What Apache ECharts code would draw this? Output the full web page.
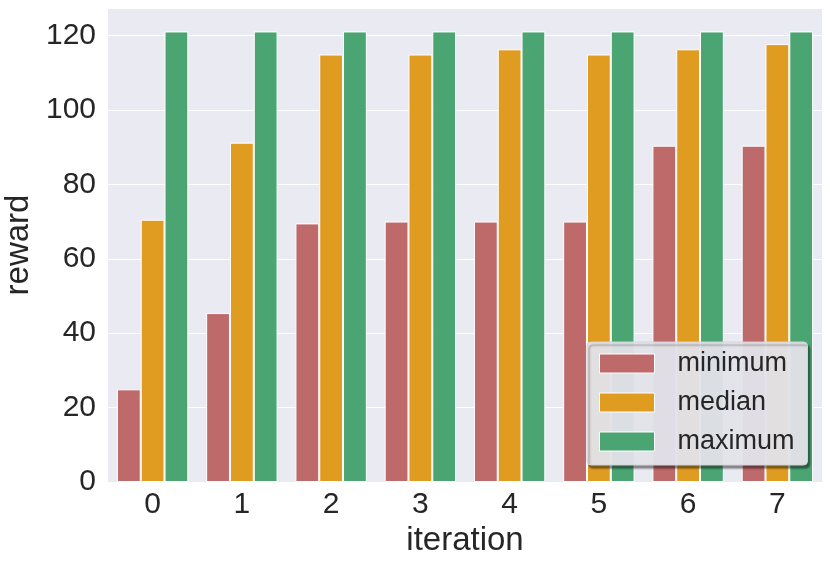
<!DOCTYPE html>
<html>
<head>
<meta charset="utf-8">
<script src="https://cdn.jsdelivr.net/npm/echarts@6/dist/echarts.min.js"></script>
<style>
  html, body { margin: 0; padding: 0; background: #ffffff; }
  #app { width: 830px; height: 565px; }
</style>
</head>
<body>
<div id="app"></div>
<script>
// iterations on the x axis
var iterations = ['0', '1', '2', '3', '4', '5', '6', '7'];
// reward values per iteration
var minimum = [24.9, 45.4, 69.5, 70.0, 70.0, 70.0, 90.4, 90.4];
var median = [70.5, 91.2, 114.9, 114.9, 116.3, 114.9, 116.3, 117.7];
var maximum = [121.1, 121.1, 121.1, 121.1, 121.1, 121.1, 121.1, 121.1];
var yTicks = [0, 20, 40, 60, 80, 100, 120];

var textColor = '#262626';
var fontFamily = 'Liberation Sans, Arial, sans-serif';

function barSeries(name, data, color) {
    return {
        name: name,
        type: 'bar',
        data: data,
        barGap: '0%',
        barCategoryGap: '20%',
        itemStyle: { color: color, borderColor: '#ffffff', borderWidth: 1 }
    };
}

var chart = echarts.init(document.getElementById('app'));
chart.setOption({
    animation: false,
    textStyle: { fontFamily: fontFamily },
    grid: {
        left: 108, right: 8, top: 8, bottom: 83,
        outerBoundsMode: 'none',
        containLabel: false,
        show: true, backgroundColor: '#EAEAF2', borderWidth: 0
    },
    legend: {
        orient: 'vertical',
        left: 587, top: 342,
        padding: [8, 13, 10, 12],
        itemWidth: 55, itemHeight: 19, itemGap: 12,
        icon: 'rect',
        backgroundColor: 'rgba(234,234,242,0.92)',
        borderColor: '#d2d2d8', borderWidth: 1, borderRadius: 4,
        shadowColor: 'rgba(0,0,0,0.45)', shadowBlur: 2,
        shadowOffsetX: 2, shadowOffsetY: 3,
        itemStyle: { borderColor: '#ffffff', borderWidth: 1 },
        textStyle: { fontSize: 27, color: textColor, padding: [0, 0, 0, 18] },
        data: ['minimum', 'median', 'maximum']
    },
    xAxis: {
        type: 'category',
        data: iterations,
        name: 'iteration',
        nameLocation: 'middle',
        nameGap: 42,
        nameTextStyle: { fontSize: 33, color: textColor },
        axisLine: { show: false },
        axisTick: { show: false },
        axisLabel: { fontSize: 30, color: textColor, margin: 8 }
    },
    yAxis: {
        type: 'value',
        min: 0, max: 127.4, interval: 20,
        name: 'reward',
        nameLocation: 'middle',
        nameGap: 66,
        nameTextStyle: { fontSize: 33, color: textColor },
        axisLine: { show: false },
        axisTick: { show: false },
        axisLabel: {
            fontSize: 30, color: textColor, margin: 12, showMaxLabel: false,
            formatter: function (v) { return yTicks.indexOf(v) >= 0 ? String(v) : ''; }
        },
        splitLine: { lineStyle: { color: '#ffffff', width: 1.2 } }
    },
    series: [
        barSeries('minimum', minimum, '#BE696A'),
        barSeries('median', median, '#E09C21'),
        barSeries('maximum', maximum, '#4BA573')
    ]
});
</script>
</body>
</html>
